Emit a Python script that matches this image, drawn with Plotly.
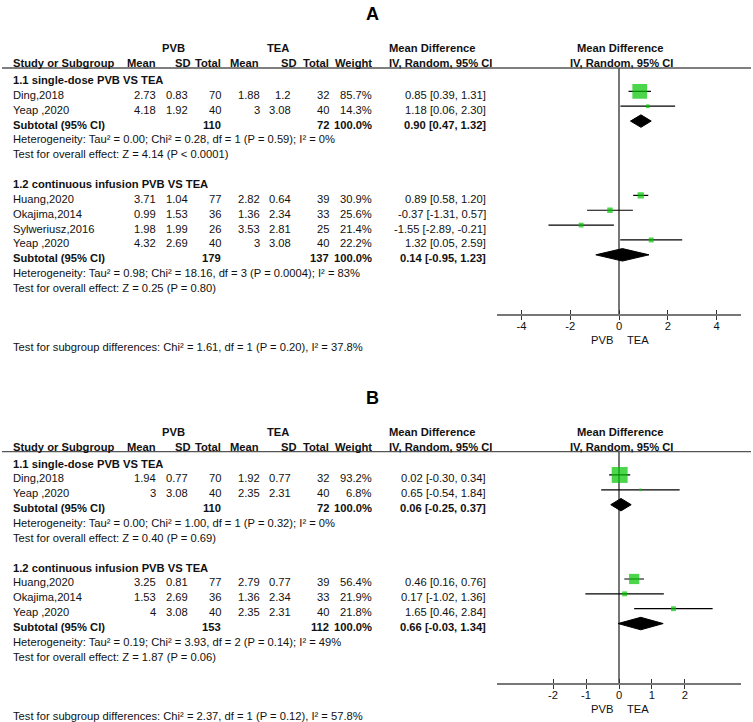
import plotly.graph_objects as go

W, H = 753, 722
FONT = "Arial, Liberation Sans, Helvetica, sans-serif"
FS = 11.2

SUBGROUPS = ["1.1 single-dose PVB VS TEA", "1.2 continuous infusion PVB VS TEA"]

# ---------------- Panel A data ----------------
A_group = [1, 1, 2, 2, 2, 2]
A_study = ["Ding,2018", "Yeap ,2020", "Huang,2020", "Okajima,2014", "Sylweriusz,2016", "Yeap ,2020"]
A_pvb_mean = [2.73, 4.18, 3.71, 0.99, 1.98, 4.32]
A_pvb_sd = [0.83, 1.92, 1.04, 1.53, 1.99, 2.69]
A_pvb_n = [70, 40, 77, 36, 26, 40]
A_tea_mean = [1.88, 3, 2.82, 1.36, 3.53, 3]
A_tea_sd = [1.2, 3.08, 0.64, 2.34, 2.81, 3.08]
A_tea_n = [32, 40, 39, 33, 25, 40]
A_weight = [85.7, 14.3, 30.9, 25.6, 21.4, 22.2]
A_md = [0.85, 1.18, 0.89, -0.37, -1.55, 1.32]
A_lo = [0.39, 0.06, 0.58, -1.31, -2.89, 0.05]
A_hi = [1.31, 2.30, 1.20, 0.57, -0.21, 2.59]
A_sub_pvb_n = [110, 179]
A_sub_tea_n = [72, 137]
A_sub_md = [0.90, 0.14]
A_sub_lo = [0.47, -0.95]
A_sub_hi = [1.32, 1.23]
A_het = ["Heterogeneity: Tau² = 0.00; Chi² = 0.28, df = 1 (P = 0.59); I² = 0%",
         "Heterogeneity: Tau² = 0.98; Chi² = 18.16, df = 3 (P = 0.0004); I² = 83%"]
A_overall = ["Test for overall effect: Z = 4.14 (P < 0.0001)",
             "Test for overall effect: Z = 0.25 (P = 0.80)"]
A_diff = "Test for subgroup differences: Chi² = 1.61, df = 1 (P = 0.20), I² = 37.8%"
A_ticks = [-4, -2, 0, 2, 4]
A_xrange = [-5, 5]

# ---------------- Panel B data ----------------
B_group = [1, 1, 2, 2, 2]
B_study = ["Ding,2018", "Yeap ,2020", "Huang,2020", "Okajima,2014", "Yeap ,2020"]
B_pvb_mean = [1.94, 3, 3.25, 1.53, 4]
B_pvb_sd = [0.77, 3.08, 0.81, 2.69, 3.08]
B_pvb_n = [70, 40, 77, 36, 40]
B_tea_mean = [1.92, 2.35, 2.79, 1.36, 2.35]
B_tea_sd = [0.77, 2.31, 0.77, 2.34, 2.31]
B_tea_n = [32, 40, 39, 33, 40]
B_weight = [93.2, 6.8, 56.4, 21.9, 21.8]
B_md = [0.02, 0.65, 0.46, 0.17, 1.65]
B_lo = [-0.30, -0.54, 0.16, -1.02, 0.46]
B_hi = [0.34, 1.84, 0.76, 1.36, 2.84]
B_sub_pvb_n = [110, 153]
B_sub_tea_n = [72, 112]
B_sub_md = [0.06, 0.66]
B_sub_lo = [-0.25, -0.03]
B_sub_hi = [0.37, 1.34]
B_het = ["Heterogeneity: Tau² = 0.00; Chi² = 1.00, df = 1 (P = 0.32); I² = 0%",
         "Heterogeneity: Tau² = 0.19; Chi² = 3.93, df = 2 (P = 0.14); I² = 49%"]
B_overall = ["Test for overall effect: Z = 0.40 (P = 0.69)",
             "Test for overall effect: Z = 1.87 (P = 0.06)"]
B_diff = "Test for subgroup differences: Chi² = 2.37, df = 1 (P = 0.12), I² = 57.8%"
B_ticks = [-2, -1, 0, 1, 2]
B_xrange = [-3.7, 3.7]

# ---------------- layout constants ----------------
RH = 14.86          # row height (px)
MARK_OFF = 3.5      # marks sit slightly above text centre
X_LEFT = 12
COL_R = dict(pm=157, ps=189, pn=222, tm=261, ts=292, tn=330, w=373, ci=487)
HDR_R = dict(pm=157, ps=192, pn=222, tm=260, ts=298, tn=330, w=373)
PLOT_L, PLOT_R = 497, 741
GREEN = "#00c400"
GRAY = "#777777"

fig = go.Figure()
annotations = []
shapes = []


def txt(x, y, s, anchor="left", bold=False, size=FS, color="#111"):
    annotations.append(dict(
        xref="paper", yref="paper", x=x / W, y=1 - y / H,
        text=f"<b>{s}</b>" if bold else s, showarrow=False,
        xanchor=anchor, yanchor="middle", borderpad=0,
        font=dict(family=FONT, size=size, color=color)))


def fmt(v):
    return f"{v:g}"


def ci(m, l, h):
    return f"{m:.2f} [{l:.2f}, {h:.2f}]"


def panel(label, y0, group, study, pm, ps, pn, tm, ts, tn, wt, md, lo, hi,
          s_pn, s_tn, s_md, s_lo, s_hi, het, overall, diff, ticks, xrange, ax):
    xa, ya, xa2 = ax
    # titles and headers
    txt(372.5, y0 - 66, label, anchor="center", bold=True, size=18, color="#000")
    txt(173.5, y0 - 32, "PVB", anchor="center", bold=True)
    txt(278, y0 - 32, "TEA", anchor="center", bold=True)
    txt(388, y0 - 32, "Mean Difference", bold=True)
    txt(620, y0 - 32, "Mean Difference", anchor="center", bold=True)
    hy = y0 - 17
    txt(X_LEFT, hy, "Study or Subgroup", bold=True)
    for k, s in [("pm", "Mean"), ("ps", "SD"), ("pn", "Total"), ("tm", "Mean"),
                 ("ts", "SD"), ("tn", "Total"), ("w", "Weight")]:
        txt(HDR_R[k], hy, s, anchor="right", bold=True)
    txt(388, hy, "IV, Random, 95% CI", bold=True)
    txt(621, hy, "IV, Random, 95% CI", anchor="center", bold=True)
    shapes.append(dict(type="line", xref="paper", yref="paper",
                       x0=2 / W, x1=751 / W, y0=1 - (y0 - 12) / H, y1=1 - (y0 - 12) / H,
                       line=dict(color="#555", width=1.3)))

    r = 0
    study_rows, sub_rows = [], []
    for g in (1, 2):
        gi = g - 1
        txt(X_LEFT, y0 + r * RH, SUBGROUPS[gi], bold=True)
        r += 1
        for i in [i for i in range(len(group)) if group[i] == g]:
            yy = y0 + r * RH
            txt(X_LEFT, yy, study[i])
            txt(COL_R["pm"], yy, fmt(pm[i]), "right")
            txt(COL_R["ps"], yy, fmt(ps[i]), "right")
            txt(COL_R["pn"], yy, str(pn[i]), "right")
            txt(COL_R["tm"], yy, fmt(tm[i]), "right")
            txt(COL_R["ts"], yy, fmt(ts[i]), "right")
            txt(COL_R["tn"], yy, str(tn[i]), "right")
            txt(COL_R["w"], yy, f"{wt[i]:.1f}%", "right")
            txt(COL_R["ci"], yy, ci(md[i], lo[i], hi[i]), "right")
            study_rows.append((i, r))
            r += 1
        yy = y0 + r * RH
        txt(X_LEFT, yy, "Subtotal (95% CI)", bold=True)
        txt(COL_R["pn"], yy, str(s_pn[gi]), "right", bold=True)
        txt(COL_R["tn"], yy, str(s_tn[gi]), "right", bold=True)
        txt(COL_R["w"], yy, "100.0%", "right", bold=True)
        txt(COL_R["ci"], yy, ci(s_md[gi], s_lo[gi], s_hi[gi]), "right", bold=True)
        sub_rows.append((gi, r))
        r += 1
        txt(X_LEFT, y0 + r * RH, het[gi])
        r += 1
        txt(X_LEFT, y0 + r * RH, overall[gi])
        r += 1
        if g == 1:
            r += 1
    last = r - 1
    txt(X_LEFT, y0 + (last + 4) * RH, diff)

    # forest-plot axes
    top_px = y0 - 12
    bot_px = y0 + (last + 1.75) * RH
    y_top = (-12 + MARK_OFF) / RH
    y_bot = (last + 1.75) + MARK_OFF / RH
    dom_y = [1 - bot_px / H, 1 - top_px / H]
    dom_x = [PLOT_L / W, PLOT_R / W]

    # study squares with CI whiskers
    idx = [i for i, _ in study_rows]
    rows = [rr for _, rr in study_rows]
    fig.add_trace(go.Scatter(
        x=[md[i] for i in idx], y=rows, mode="markers",
        marker=dict(symbol="square", color=GREEN, size=[1.5 + 0.155 * wt[i] for i in idx],
                    line=dict(width=0)),
        error_x=dict(type="data", symmetric=False,
                     array=[hi[i] - md[i] for i in idx],
                     arrayminus=[md[i] - lo[i] for i in idx],
                     color="#000", thickness=1.2, width=0),
        xaxis=xa, yaxis=ya, showlegend=False, hoverinfo="skip", cliponaxis=False))
    # subtotal diamonds
    for gi, rr in sub_rows:
        hh = 0.42
        fig.add_trace(go.Scatter(
            x=[s_lo[gi], s_md[gi], s_hi[gi], s_md[gi], s_lo[gi]],
            y=[rr, rr - hh, rr, rr + hh, rr],
            mode="lines", fill="toself", fillcolor="#000",
            line=dict(color="#000", width=1),
            xaxis=xa, yaxis=ya, showlegend=False, hoverinfo="skip"))
    # dummy trace for the overlay axis (inside ticks)
    fig.add_trace(go.Scatter(x=[0], y=[0], mode="markers", marker=dict(opacity=0),
                             xaxis=xa2, yaxis=ya, showlegend=False, hoverinfo="skip"))

    xk = "xaxis" + xa[1:]
    yk = "yaxis" + ya[1:]
    xk2 = "xaxis" + xa2[1:]
    fig.layout[xk] = dict(domain=dom_x, range=xrange, anchor=ya, showgrid=False,
                          zeroline=True, zerolinecolor=GRAY, zerolinewidth=1.6,
                          showline=True, linecolor=GRAY, linewidth=1.6,
                          ticks="outside", ticklen=4, tickwidth=1.4, tickcolor="#333",
                          tickvals=ticks, ticktext=[str(t) for t in ticks],
                          ticklabelstandoff=-3,
                          tickfont=dict(family=FONT, size=FS, color="#111"),
                          fixedrange=True)
    fig.layout[xk2] = dict(overlaying=xa, range=xrange, anchor=ya, showgrid=False,
                           zeroline=False, showline=False, ticks="inside", ticklen=4,
                           tickwidth=1.4, tickcolor="#333", tickvals=ticks,
                           showticklabels=False, side="bottom")
    fig.layout[yk] = dict(domain=dom_y, range=[y_bot, y_top], anchor=xa,
                          showgrid=False, zeroline=False, showline=False,
                          showticklabels=False, ticks="")
    # favours labels
    lab_y = 1 - (y0 + (last + 3.5) * RH) / H
    annotations.append(dict(xref=xa, yref="paper", x=0, y=lab_y, text="PVB",
                            showarrow=False, xanchor="right", yanchor="middle",
                            xshift=-4, font=dict(family=FONT, size=FS, color="#111")))
    annotations.append(dict(xref=xa, yref="paper", x=0, y=lab_y, text="TEA",
                            showarrow=False, xanchor="left", yanchor="middle",
                            xshift=6, font=dict(family=FONT, size=FS, color="#111")))


panel("A", 80.0, A_group, A_study, A_pvb_mean, A_pvb_sd, A_pvb_n, A_tea_mean, A_tea_sd,
      A_tea_n, A_weight, A_md, A_lo, A_hi, A_sub_pvb_n, A_sub_tea_n, A_sub_md, A_sub_lo,
      A_sub_hi, A_het, A_overall, A_diff, A_ticks, A_xrange, ("x", "y", "x3"))
panel("B", 463.6, B_group, B_study, B_pvb_mean, B_pvb_sd, B_pvb_n, B_tea_mean, B_tea_sd,
      B_tea_n, B_weight, B_md, B_lo, B_hi, B_sub_pvb_n, B_sub_tea_n, B_sub_md, B_sub_lo,
      B_sub_hi, B_het, B_overall, B_diff, B_ticks, B_xrange, ("x2", "y2", "x4"))

fig.update_layout(width=W, height=H, margin=dict(l=0, r=0, t=0, b=0),
                  paper_bgcolor="white", plot_bgcolor="white",
                  annotations=annotations, shapes=shapes, showlegend=False)
fig.write_html("out.html", config={"displayModeBar": False},
               post_script="document.body.style.margin='0px';document.body.style.overflow='hidden';")
